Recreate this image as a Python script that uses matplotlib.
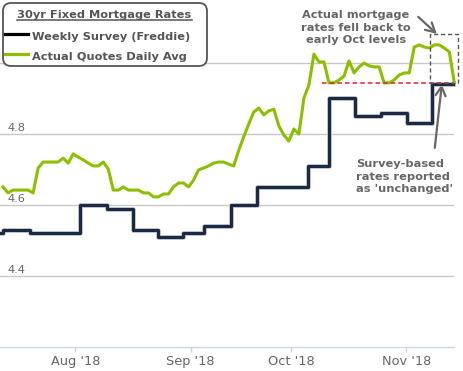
"""
30yr fixed mortgage rates: weekly Freddie survey vs actual daily quotes.
Writes out.png (463x371).
"""

import matplotlib.pyplot as plt
import matplotlib.patheffects as pe
import numpy as np
import pandas as pd
from matplotlib.lines import Line2D
from matplotlib.patches import FancyBboxPatch, Rectangle

# ---------------------------------------------------------------------------
# Data
# ---------------------------------------------------------------------------

START_DATE = "2018-07-11"

# Actual quotes, one value per business day from START_DATE
quotes = [
    4.651, 4.634, 4.642, 4.642, 4.642, 4.642, 4.634, 4.704, 4.721, 4.721,
    4.721, 4.721, 4.732, 4.718, 4.744, 4.735, 4.727, 4.718, 4.710, 4.710,
    4.721, 4.701, 4.642, 4.642, 4.651, 4.642, 4.642, 4.642, 4.634, 4.634,
    4.623, 4.623, 4.631, 4.631, 4.651, 4.662, 4.662, 4.651, 4.670, 4.699,
    4.704, 4.710, 4.718, 4.721, 4.721, 4.715, 4.710, 4.754, 4.792, 4.828,
    4.862, 4.873, 4.854, 4.865, 4.870, 4.823, 4.797, 4.780, 4.814, 4.800,
    4.901, 4.938, 5.025, 5.003, 5.003, 4.944, 4.944, 4.952, 4.963, 5.006,
    4.972, 4.989, 5.000, 4.992, 4.989, 4.989, 4.944, 4.944, 4.952, 4.966,
    4.972, 4.972, 5.045, 5.051, 5.045, 5.042, 5.051, 5.051, 5.042, 5.031,
    4.944,
]

# Weekly survey: step start (business-day units) and rate
survey_x = [0.0, 0.6, 6.0, 16.0, 21.3, 26.5, 31.5, 36.5, 40.7, 46.1,
            51.2, 61.4, 65.6, 70.8, 76.0, 81.2, 86.1]
survey_rate = [4.52, 4.53, 4.52, 4.60, 4.59, 4.53, 4.51, 4.52, 4.54, 4.60,
               4.65, 4.71, 4.90, 4.85, 4.86, 4.83, 4.94]
survey_end = 90.3

y_grid = [4.4, 4.6, 4.8, 5.0]

# ---------------------------------------------------------------------------
# Style
# ---------------------------------------------------------------------------

W, H = 463, 371
GREEN = "#8cbf00"
NAVY = "#1b2a44"
TEXT = "#666666"
LEGEND_TEXT = "#555555"
AXIS = "#ccd6eb"
GRID = "#c8c8c8"
ARROW = dict(arrowstyle="->,head_length=0.55,head_width=0.3", color="#666666",
             lw=1.6, mutation_scale=12, shrinkA=0, shrinkB=0)

fig = plt.figure(figsize=(W / 100, H / 100), dpi=100)
ax = fig.add_axes([0, 24 / H, 454 / W, 347 / H])

dates = pd.bdate_range(START_DATE, periods=len(quotes))
x_quotes = np.arange(len(quotes)) + 0.6

# month ticks at the first business day of each month
month_start = [i for i in range(1, len(dates)) if dates[i].month != dates[i - 1].month]
tick_labels = [dates[i].strftime("%b '%y") for i in month_start]

# ---------------------------------------------------------------------------
# Series
# ---------------------------------------------------------------------------

ax.plot(x_quotes, quotes, color=GREEN, lw=2.2, solid_joinstyle="round",
        zorder=3, clip_on=False)

sx = list(survey_x) + [survey_end]
sy = list(survey_rate) + [survey_rate[-1]]
ax.step(sx, sy, where="post", color=NAVY, lw=2.2, zorder=4, clip_on=False,
        path_effects=[pe.Stroke(linewidth=3.3, foreground="#b3bac2"), pe.Normal()])

# ---------------------------------------------------------------------------
# Axes
# ---------------------------------------------------------------------------

ax.set_xlim(0, 90.53)
ax.set_ylim(4.2, 4.4 + 276 / 355)
ax.set_yticks(y_grid)
ax.yaxis.grid(True, color=GRID, lw=1.0)
ax.set_axisbelow(True)
ax.tick_params(axis="y", length=0, labelleft=False)
for v in y_grid[:-1]:
    ax.text(8 / 454, v + 0.009, f"{v:.1f}", transform=ax.get_yaxis_transform(),
            ha="left", va="baseline", fontsize=8.2, color=TEXT)

ax.set_xticks(month_start, tick_labels)
ax.tick_params(axis="x", length=3.6, width=1.0, color=AXIS, labelcolor=TEXT,
               labelsize=9.3, pad=2.5)
for side in ["top", "left", "right"]:
    ax.spines[side].set_visible(False)
ax.spines["bottom"].set_color(AXIS)
ax.spines["bottom"].set_linewidth(1.0)

# ---------------------------------------------------------------------------
# Annotations
# ---------------------------------------------------------------------------

ax.plot([64.2, 90.5], [4.945, 4.945], color="#e0202a", lw=1.1,
        ls=(0, (3, 2)), zorder=5, clip_on=False)
ax.add_patch(Rectangle((85.7, 4.944), 5.6, 0.138, fill=False, ec="#555555",
                       lw=1.0, ls=(0, (3, 2)), zorder=5, clip_on=False))

ax.text(71.0, 5.10, "Actual mortgage\nrates fell back to\nearly Oct levels",
        ha="center", va="center", fontsize=8.2, fontweight="bold",
        color=TEXT, linespacing=1.3)
ax.annotate("", xy=(87.1, 5.082), xytext=(83.4, 5.130), arrowprops=ARROW)

ax.text(71.0, 4.68, "Survey-based\nrates reported\nas 'unchanged'",
        ha="left", va="center", fontsize=8.2, fontweight="bold",
        color=TEXT, linespacing=1.3)
ax.annotate("", xy=(88.1, 4.94), xytext=(86.7, 4.761), arrowprops=ARROW)

# ---------------------------------------------------------------------------
# Legend (drawn in pixel space, top-left origin)
# ---------------------------------------------------------------------------

px = fig.dpi_scale_trans


def iy(py):
    return (H - py) / 100


box = FancyBboxPatch((0.03, iy(66)), 2.04, 0.63,
                     boxstyle="round,pad=0,rounding_size=0.08",
                     transform=px, fc="white", ec="#555555", lw=1.3, zorder=10)
fig.add_artist(box)

title = fig.text(1.045, iy(18.5), "30yr Fixed Mortgage Rates", transform=px,
                 ha="center", va="baseline", fontsize=8.2, fontweight="bold",
                 color=LEGEND_TEXT, zorder=11)

entries = [("Weekly Survey (Freddie)", "#000000", 33.5),
           ("Actual Quotes Daily Avg", GREEN, 53.5)]
for label, color, yc in entries:
    fig.add_artist(Line2D([0.05, 0.28], [iy(yc), iy(yc)], transform=px,
                          color=color, lw=2.3, zorder=11))
    fig.text(0.32, iy(yc + 6), label, transform=px, ha="left", va="baseline",
             fontsize=8.2, fontweight="bold", color=LEGEND_TEXT, zorder=11)

fig.canvas.draw()
bb = title.get_window_extent().transformed(px.inverted())
fig.add_artist(Line2D([bb.x0, bb.x1], [iy(20), iy(20)], transform=px,
                      color=LEGEND_TEXT, lw=1.1, zorder=11))

fig.savefig("out.png", dpi=100, facecolor="white")
